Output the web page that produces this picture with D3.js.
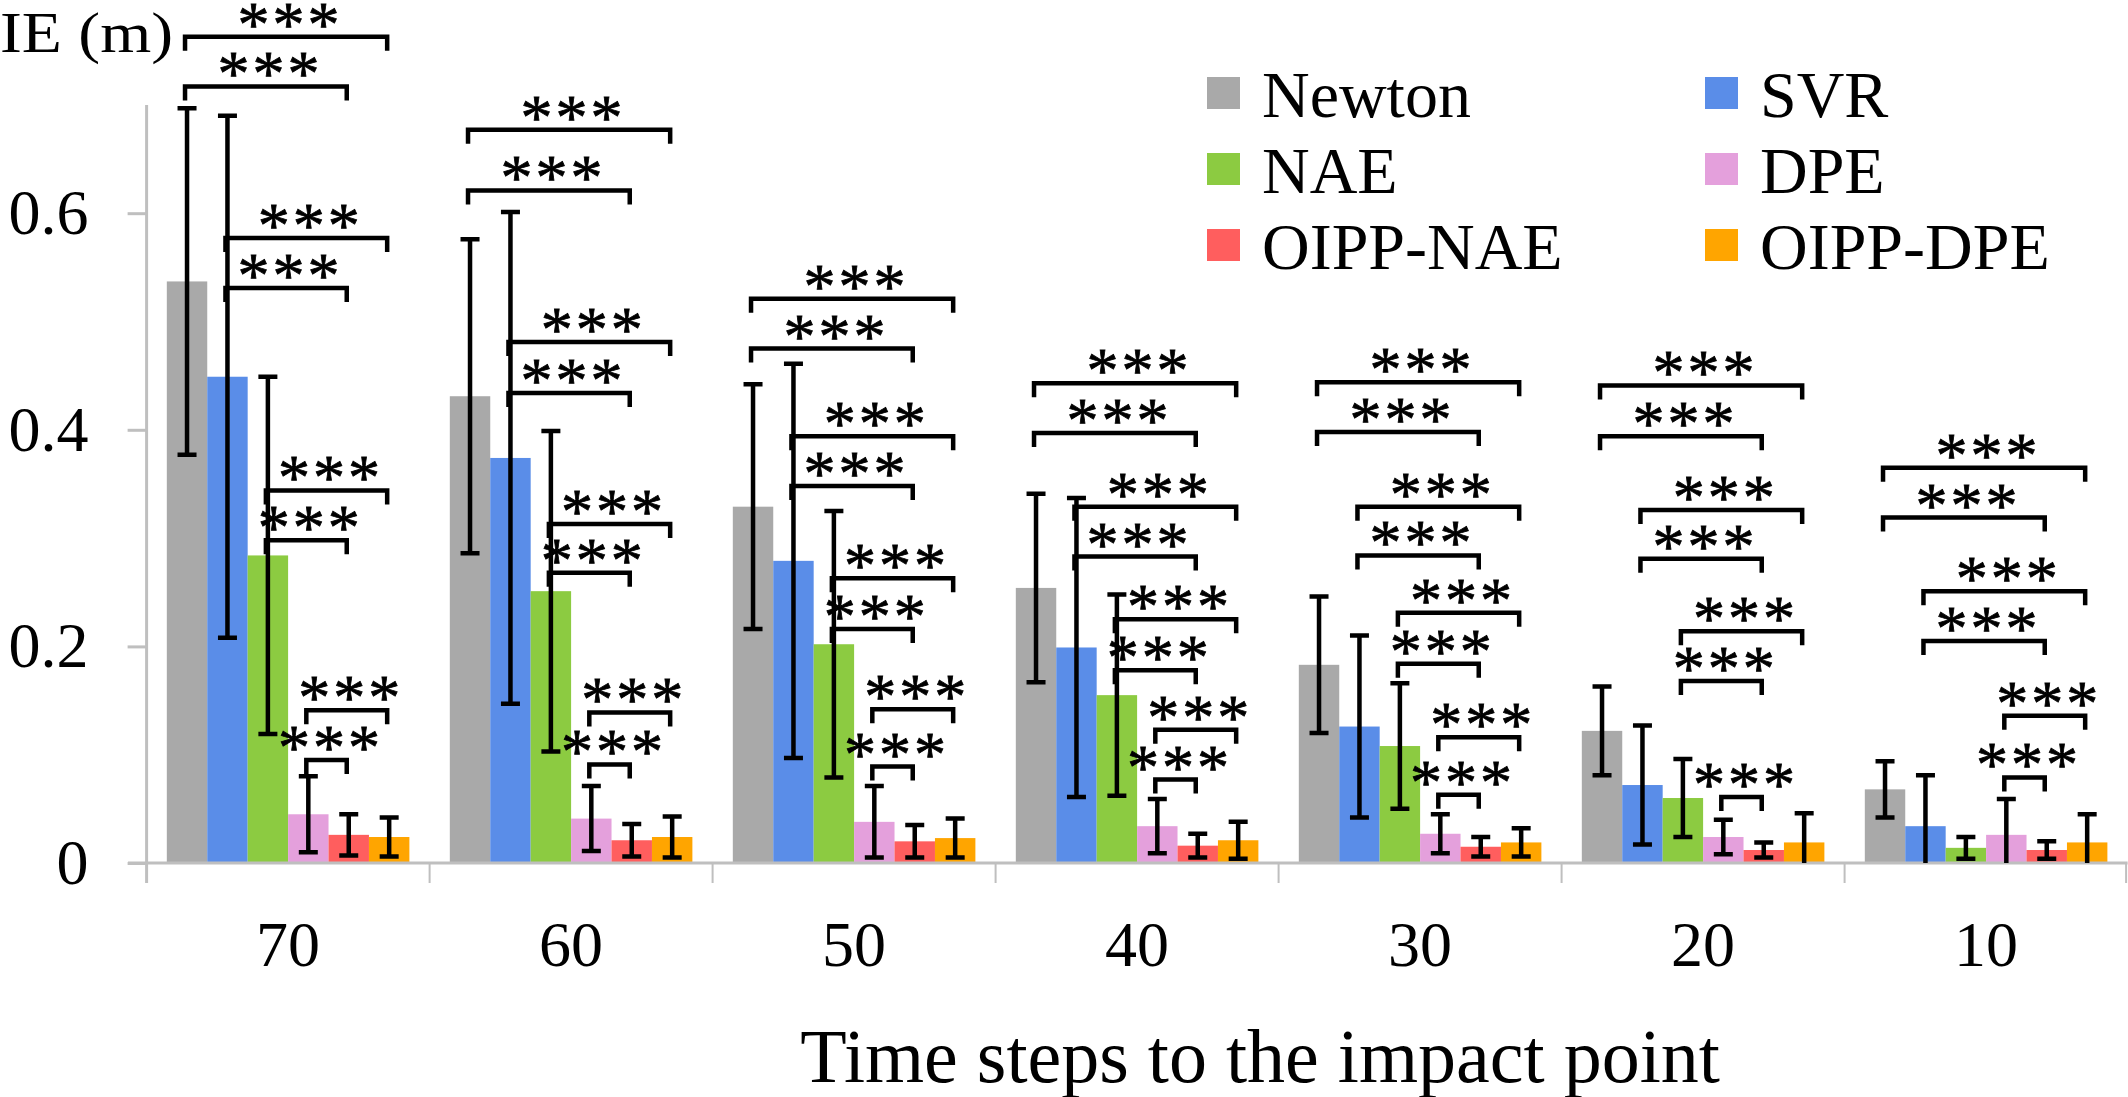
<!DOCTYPE html>
<html>
<head>
<meta charset="utf-8">
<script src="https://cdn.jsdelivr.net/npm/d3@7"></script>
<style>
  body { margin: 0; background: #fff; }
  svg { display: block; font-family: "Liberation Serif", "Times New Roman", serif; }
</style>
</head>
<body>
<svg id="chart"></svg>
<script>
const categories = ['70', '60', '50', '40', '30', '20', '10'];
const methods = ['Newton', 'SVR', 'NAE', 'DPE', 'OIPP-NAE', 'OIPP-DPE'];
const colors = ['#A9A9A9', '#5A8DE8', '#8CCB41', '#E4A0DC', '#FF5E5E', '#FFA500'];
const yTicks = [0, 0.2, 0.4, 0.6];
const yTickLabels = ['0', '0.2', '0.4', '0.6'];

// mean IE (m) for each time step, one array per method
const newton = [0.537, 0.431, 0.329, 0.254, 0.183, 0.122, 0.068];
const svr = [0.449, 0.374, 0.279, 0.199, 0.126, 0.072, 0.034];
const nae = [0.284, 0.251, 0.202, 0.155, 0.108, 0.060, 0.014];
const dpe = [0.045, 0.041, 0.038, 0.034, 0.027, 0.024, 0.026];
const oippNae = [0.026, 0.021, 0.020, 0.016, 0.015, 0.012, 0.012];
const oippDpe = [0.024, 0.024, 0.023, 0.021, 0.019, 0.019, 0.019];

// standard deviations (error bars)
const newtonErr = [0.160, 0.145, 0.113, 0.087, 0.063, 0.041, 0.026];
const svrErr = [0.241, 0.227, 0.182, 0.138, 0.084, 0.055, 0.047];
const naeErr = [0.165, 0.148, 0.123, 0.093, 0.058, 0.036, 0.010];
const dpeErr = [0.035, 0.030, 0.033, 0.025, 0.018, 0.016, 0.033];
const oippNaeErr = [0.019, 0.015, 0.015, 0.011, 0.009, 0.007, 0.008];
const oippDpeErr = [0.018, 0.019, 0.018, 0.017, 0.013, 0.027, 0.026];

// significance comparisons and the height (m) of each bracket per time step
const sigPairs = [
  ['Newton', 'OIPP-DPE'], ['Newton', 'OIPP-NAE'],
  ['SVR', 'OIPP-DPE'], ['SVR', 'OIPP-NAE'],
  ['NAE', 'OIPP-DPE'], ['NAE', 'OIPP-NAE'],
  ['DPE', 'OIPP-DPE'], ['DPE', 'OIPP-NAE']
];
const sigLevels = [
  [0.763, 0.717, 0.577, 0.531, 0.344, 0.298, 0.141, 0.095],
  [0.677, 0.621, 0.481, 0.434, 0.313, 0.268, 0.139, 0.091],
  [0.521, 0.475, 0.394, 0.348, 0.263, 0.216, 0.142, 0.089],
  [0.443, 0.397, 0.329, 0.283, 0.225, 0.178, 0.123, 0.077],
  [0.444, 0.398, 0.329, 0.284, 0.231, 0.184, 0.116, 0.063],
  [0.441, 0.394, 0.326, 0.281, 0.214, 0.168, null, 0.061],
  [0.365, 0.319, 0.251, 0.205, null, null, 0.136, 0.079]
];
const sigLabel = '***';

const means = [newton, svr, nae, dpe, oippNae, oippDpe];
const errs = [newtonErr, svrErr, naeErr, dpeErr, oippNaeErr, oippDpeErr];

const [width, height] = [2128, 1097];
const svg = d3.select('#chart')
  .attr('width', width)
  .attr('height', height);

const x0 = d3.scaleBand()
  .domain(categories)
  .range([146.6, 2127.6]);
const x1 = d3.scaleBand()
  .domain(methods)
  .range([0, x0.bandwidth()])
  .paddingOuter(0.5);
const y = d3.scaleLinear()
  .domain([0, 0.7])
  .range([863, 863 - 0.7 * 1083]);

const axisColor = '#BFBFBF';
const cx = (cat, m) => x0(cat) + x1(m) + x1.bandwidth() / 2;

// y axis
const yAxis = svg.append('g')
  .attr('transform', 'translate(146.6,0)')
  .call(d3.axisLeft(y)
    .tickValues(yTicks)
    .tickFormat((d, i) => yTickLabels[i])
    .tickSize(19)
    .tickSizeOuter(0)
    .tickPadding(39));
yAxis.select('.domain').remove();
yAxis.selectAll('line').attr('stroke', axisColor).attr('stroke-width', 3);
yAxis.selectAll('text')
  .attr('fill', '#000')
  .style('font-size', '64px')
  .style('font-family', '"Liberation Serif", serif');
svg.append('line')
  .attr('x1', 146.6).attr('x2', 146.6)
  .attr('y1', y(0.7)).attr('y2', 883)
  .attr('stroke', axisColor).attr('stroke-width', 3);

// bars
const groups = svg.append('g').selectAll('g')
  .data(categories)
  .join('g');
groups.selectAll('rect')
  .data((cat, ci) => methods.map((m, mi) => ({ cat, m, v: means[mi][ci], mi })))
  .join('rect')
  .attr('x', d => x0(d.cat) + x1(d.m))
  .attr('width', x1.bandwidth())
  .attr('y', d => y(d.v))
  .attr('height', d => y(0) - y(d.v))
  .attr('fill', d => colors[d.mi]);

// x axis
const xAxis = svg.append('g')
  .attr('transform', `translate(0,${y(0)})`)
  .call(d3.axisBottom(x0).tickSize(0).tickPadding(58));
xAxis.select('.domain').remove();
xAxis.selectAll('text')
  .attr('fill', '#000')
  .style('font-size', '64px')
  .style('font-family', '"Liberation Serif", serif');
svg.append('line')
  .attr('x1', 128).attr('x2', x0.range()[1])
  .attr('y1', y(0)).attr('y2', y(0))
  .attr('stroke', axisColor).attr('stroke-width', 3);
const bounds = categories.map(c => x0(c)).concat([x0.range()[1] - 1.5]);
svg.append('g').selectAll('line')
  .data(bounds.slice(1))
  .join('line')
  .attr('x1', d => d).attr('x2', d => d)
  .attr('y1', y(0)).attr('y2', y(0) + 20)
  .attr('stroke', axisColor).attr('stroke-width', 2);

// error bars
const capHalf = 9.5;
const errData = [];
categories.forEach((cat, ci) => methods.forEach((m, mi) => {
  errData.push({ x: cx(cat, m), v: means[mi][ci], e: errs[mi][ci] });
}));
const eb = svg.append('g')
  .attr('stroke', '#000')
  .attr('stroke-width', 4.5)
  .attr('fill', 'none');
eb.selectAll('path')
  .data(errData)
  .join('path')
  .attr('d', d => {
    const top = y(d.v + d.e);
    const low = d.v - d.e;
    let p = `M${d.x - capHalf},${top}H${d.x + capHalf}M${d.x},${top}V${y(Math.max(0, low))}`;
    if (low > 0) p += `M${d.x - capHalf},${y(low)}H${d.x + capHalf}`;
    return p;
  });

// significance brackets
const sigData = [];
categories.forEach((cat, ci) => sigPairs.forEach((pair, pi) => {
  const lvl = sigLevels[ci][pi];
  if (lvl == null) return;
  sigData.push({ xa: cx(cat, pair[0]) - 2, xb: cx(cat, pair[1]) - 2, yy: y(lvl) });
}));
const sig = svg.append('g');
sig.selectAll('path')
  .data(sigData)
  .join('path')
  .attr('fill', 'none')
  .attr('stroke', '#000')
  .attr('stroke-width', 4.5)
  .attr('d', d => `M${d.xa},${d.yy + 14}V${d.yy}H${d.xb}V${d.yy + 14}`);
sig.selectAll('text')
  .data(sigData)
  .join('text')
  .attr('x', d => (d.xa + d.xb) / 2 + 4)
  .attr('y', d => d.yy + 9)
  .attr('text-anchor', 'middle')
  .attr('stroke', '#000')
  .attr('stroke-width', 0.8)
  .style('font-size', '64px')
  .style('letter-spacing', '3px')
  .text(sigLabel);

// axis titles
svg.append('text')
  .attr('x', 0)
  .attr('y', 52)
  .attr('textLength', 173)
  .attr('lengthAdjust', 'spacingAndGlyphs')
  .style('font-size', '58px')
  .text('IE (m)');
svg.append('text')
  .attr('x', 1260)
  .attr('y', 1082)
  .attr('text-anchor', 'middle')
  .style('font-size', '76px')
  .text('Time steps to the impact point');

// legend
const legend = svg.append('g')
  .attr('transform', 'translate(1207,77)');
const items = legend.selectAll('g')
  .data(methods)
  .join('g')
  .attr('transform', (d, i) => `translate(${(i % 2) * 498},${Math.floor(i / 2) * 76})`);
items.append('rect')
  .attr('width', 33)
  .attr('height', 32)
  .attr('fill', (d, i) => colors[i]);
items.append('text')
  .attr('x', 55)
  .attr('y', 40)
  .style('font-size', '66px')
  .text(d => d);
</script>
</body>
</html>
